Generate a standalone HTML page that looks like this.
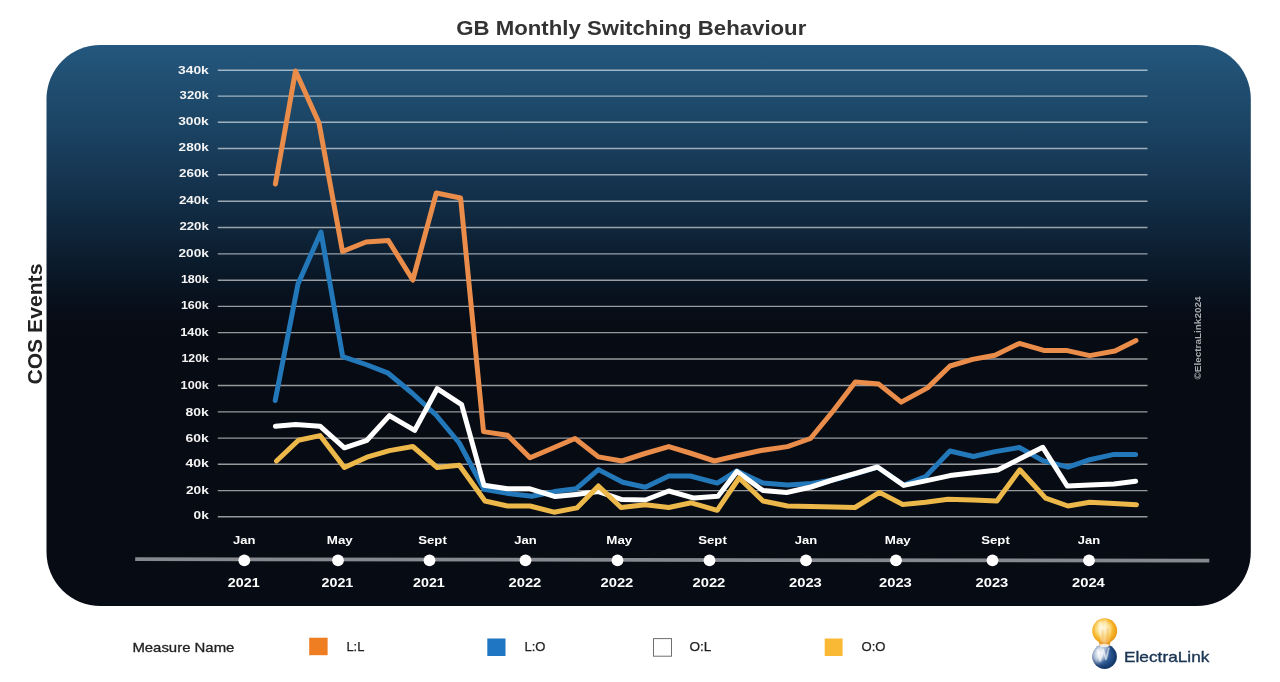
<!DOCTYPE html>
<html><head><meta charset="utf-8"><title>GB Monthly Switching Behaviour</title>
<style>
html,body{margin:0;padding:0;background:#fff;}
body{width:1280px;height:682px;overflow:hidden;font-family:"Liberation Sans",sans-serif;}
svg{display:block;will-change:transform;}
text{font-family:"Liberation Sans",sans-serif;}
</style></head><body>
<svg width="1280" height="682" viewBox="0 0 1280 682">
<defs>
<linearGradient id="bg" x1="0" y1="0" x2="0" y2="1">
<stop offset="0.0000" stop-color="#24577e"/>
<stop offset="0.0980" stop-color="#1e4a6b"/>
<stop offset="0.1693" stop-color="#1a405f"/>
<stop offset="0.2406" stop-color="#153450"/>
<stop offset="0.3030" stop-color="#112a41"/>
<stop offset="0.3832" stop-color="#0b1c2d"/>
<stop offset="0.4367" stop-color="#081320"/>
<stop offset="0.4902" stop-color="#070c16"/>
<stop offset="0.5294" stop-color="#070b13"/>
<stop offset="1.0000" stop-color="#070b13"/>
</linearGradient>
<radialGradient id="orbY" cx="0.45" cy="0.45" r="0.58" fx="0.42" fy="0.4">
<stop offset="0" stop-color="#fdf1c4"/>
<stop offset="0.4" stop-color="#fad461"/>
<stop offset="0.75" stop-color="#f5b021"/>
<stop offset="1" stop-color="#e8931a"/>
</radialGradient>
<radialGradient id="orbB" cx="0.5" cy="0.5" r="0.62" fx="0.3" fy="0.32">
<stop offset="0" stop-color="#e3e8f0"/>
<stop offset="0.22" stop-color="#a9b9d0"/>
<stop offset="0.5" stop-color="#2d5a96"/>
<stop offset="0.78" stop-color="#163c70"/>
<stop offset="1" stop-color="#0d284e"/>
</radialGradient>
<linearGradient id="neck" x1="0" y1="0" x2="0" y2="1">
<stop offset="0" stop-color="#f0a01d"/>
<stop offset="0.6" stop-color="#e88f1c"/>
<stop offset="1" stop-color="#f3d9a6"/>
</linearGradient>
<filter id="b1" x="-50%" y="-50%" width="200%" height="200%"><feGaussianBlur stdDeviation="0.7"/></filter>
<filter id="b3" x="-50%" y="-50%" width="200%" height="200%"><feGaussianBlur stdDeviation="2"/></filter>
<filter id="b2" x="-50%" y="-50%" width="200%" height="200%"><feGaussianBlur stdDeviation="1.2"/></filter>
</defs>
<rect width="1280" height="682" fill="#ffffff"/>
<text x="456.3" y="35.1" font-size="20" font-weight="bold" fill="#333333" textLength="350" lengthAdjust="spacingAndGlyphs">GB Monthly Switching Behaviour</text>
<rect x="46.5" y="45" width="1204.3" height="561" rx="54" ry="54" fill="url(#bg)"/>
<g stroke="#ffffff" stroke-opacity="0.58" stroke-width="1.4">
<line x1="217.8" y1="70.20" x2="1147.5" y2="70.20"/>
<line x1="217.8" y1="96.10" x2="1147.5" y2="96.10"/>
<line x1="217.8" y1="122.30" x2="1147.5" y2="122.30"/>
<line x1="217.8" y1="148.50" x2="1147.5" y2="148.50"/>
<line x1="217.8" y1="174.80" x2="1147.5" y2="174.80"/>
<line x1="217.8" y1="201.20" x2="1147.5" y2="201.20"/>
<line x1="217.8" y1="227.50" x2="1147.5" y2="227.50"/>
<line x1="217.8" y1="253.90" x2="1147.5" y2="253.90"/>
<line x1="217.8" y1="280.20" x2="1147.5" y2="280.20"/>
<line x1="217.8" y1="306.40" x2="1147.5" y2="306.40"/>
<line x1="217.8" y1="332.60" x2="1147.5" y2="332.60"/>
<line x1="217.8" y1="359.00" x2="1147.5" y2="359.00"/>
<line x1="217.8" y1="385.50" x2="1147.5" y2="385.50"/>
<line x1="217.8" y1="411.90" x2="1147.5" y2="411.90"/>
<line x1="217.8" y1="438.10" x2="1147.5" y2="438.10"/>
<line x1="217.8" y1="464.30" x2="1147.5" y2="464.30"/>
<line x1="217.8" y1="490.60" x2="1147.5" y2="490.60"/>
<line x1="217.8" y1="516.80" x2="1147.5" y2="516.80"/>
</g>
<g font-size="10.3" font-weight="bold" fill="#f4f4f4" text-anchor="end">
<text x="208.8" y="74.00" textLength="30.8" lengthAdjust="spacingAndGlyphs">340k</text>
<text x="208.8" y="98.50" textLength="29.2" lengthAdjust="spacingAndGlyphs">320k</text>
<text x="208.8" y="124.60" textLength="30.6" lengthAdjust="spacingAndGlyphs">300k</text>
<text x="208.8" y="150.90" textLength="30.2" lengthAdjust="spacingAndGlyphs">280k</text>
<text x="208.8" y="177.40" textLength="29.8" lengthAdjust="spacingAndGlyphs">260k</text>
<text x="208.8" y="204.10" textLength="29.9" lengthAdjust="spacingAndGlyphs">240k</text>
<text x="208.8" y="230.20" textLength="29.4" lengthAdjust="spacingAndGlyphs">220k</text>
<text x="208.8" y="256.60" textLength="30.3" lengthAdjust="spacingAndGlyphs">200k</text>
<text x="208.8" y="282.70" textLength="27.9" lengthAdjust="spacingAndGlyphs">180k</text>
<text x="208.8" y="309.10" textLength="27.9" lengthAdjust="spacingAndGlyphs">160k</text>
<text x="208.8" y="335.90" textLength="28.6" lengthAdjust="spacingAndGlyphs">140k</text>
<text x="208.8" y="361.50" textLength="27.3" lengthAdjust="spacingAndGlyphs">120k</text>
<text x="208.8" y="388.80" textLength="28.2" lengthAdjust="spacingAndGlyphs">100k</text>
<text x="208.8" y="415.60" textLength="23.2" lengthAdjust="spacingAndGlyphs">80k</text>
<text x="208.8" y="441.70" textLength="23.2" lengthAdjust="spacingAndGlyphs">60k</text>
<text x="208.8" y="467.30" textLength="23.4" lengthAdjust="spacingAndGlyphs">40k</text>
<text x="208.8" y="493.70" textLength="22.8" lengthAdjust="spacingAndGlyphs">20k</text>
<text x="208.8" y="518.90" textLength="15.2" lengthAdjust="spacingAndGlyphs">0k</text>
</g>
<text transform="translate(42.4,384.6) rotate(-90)" font-size="20" font-weight="bold" fill="#222222" textLength="121" lengthAdjust="spacingAndGlyphs">COS Events</text>
<text transform="translate(1201,379.5) rotate(-90)" font-size="8.8" font-weight="bold" fill="#a9abae" textLength="83" lengthAdjust="spacingAndGlyphs">©ElectraLink2024</text>
<g fill="none" stroke-width="5.0" stroke-linejoin="round" stroke-linecap="round">
<polyline stroke="#ea8d4a" points="275.4,184.0 295.5,71.0 319.0,123.0 342.5,251.5 366.0,242.0 388.4,240.6 412.8,280.0 436.3,193.0 460.6,198.0 483.5,431.6 507.5,435.3 530.0,457.8 553.0,448.0 575.0,438.5 598.4,456.9 621.9,461.0 645.0,453.5 668.8,446.6 691.5,453.5 714.4,461.0 738.0,455.5 761.0,450.5 787.5,446.6 810.5,438.5 833.5,410.5 855.3,381.9 878.8,384.1 901.2,402.1 927.5,387.9 950.0,366.0 972.5,359.4 995.0,355.2 1019.4,343.4 1043.8,350.4 1066.2,350.4 1089.7,355.6 1115.0,351.0 1136.0,340.5"/>
<polyline stroke="#2378ba" points="275.2,400.5 298.0,284.0 321.0,232.0 342.7,356.6 366.0,364.5 387.6,372.8 412.0,393.0 436.0,415.0 459.3,443.0 484.0,489.3 507.5,493.4 531.9,496.2 554.4,491.6 576.0,488.8 598.4,469.6 622.8,482.2 645.3,487.2 668.8,476.0 690.3,476.0 717.2,483.1 736.9,471.0 763.0,483.0 787.5,485.0 811.9,483.5 834.0,479.8 857.0,473.3 877.5,467.2 903.8,485.0 925.6,476.6 950.0,451.0 973.4,456.5 995.0,451.6 1019.4,447.5 1042.8,460.6 1068.0,467.2 1089.7,459.7 1114.0,454.4 1135.6,454.4"/>
<polyline stroke="#ffffff" points="275.4,426.2 295.6,424.4 320.0,426.2 344.4,447.8 366.9,440.3 389.4,415.6 414.7,430.4 437.2,388.7 461.6,404.7 484.0,485.3 507.5,488.8 530.0,488.8 555.3,496.6 576.0,494.4 598.4,491.6 621.9,499.6 645.3,500.0 668.8,491.0 694.0,498.1 718.0,496.2 736.9,471.5 763.0,490.6 786.6,492.5 811.0,487.0 834.0,479.5 857.0,473.0 877.5,467.0 903.8,485.4 925.6,480.9 950.0,475.6 973.4,472.8 997.8,470.0 1019.4,459.0 1042.8,447.3 1067.2,486.0 1089.7,485.0 1114.0,484.0 1135.6,481.2"/>
<polyline stroke="#edb84a" points="276.5,461.0 298.4,440.3 320.0,435.6 344.4,467.5 366.9,457.2 389.4,450.6 412.8,446.5 437.2,467.5 459.3,465.3 485.0,501.0 507.5,506.0 530.0,506.0 554.0,512.2 576.9,507.9 598.4,486.0 621.0,507.5 645.3,504.7 668.8,507.5 691.2,502.8 717.2,510.3 739.1,478.0 763.0,501.0 787.5,506.0 811.0,506.6 834.0,507.1 855.0,507.5 879.4,492.4 902.8,504.5 925.6,502.3 948.0,499.2 973.0,500.0 996.9,501.0 1019.8,469.8 1045.6,498.1 1068.0,506.0 1089.7,502.2 1114.0,503.4 1136.5,504.7"/>
</g>
<line x1="135.2" y1="559.1" x2="1209.3" y2="560.7" stroke="#86888f" stroke-width="3.8"/>
<g fill="#ffffff" font-weight="bold" text-anchor="middle">
<circle cx="244.3" cy="560.3" r="5.9"/>
<text x="244.3" y="544.4" font-size="11.4" textLength="22.4" lengthAdjust="spacingAndGlyphs">Jan</text>
<text x="243.70000000000002" y="587.2" font-size="12" textLength="31.8" lengthAdjust="spacingAndGlyphs">2021</text>
<circle cx="338" cy="560.3" r="5.9"/>
<text x="339.8" y="544.4" font-size="11.4" textLength="26.0" lengthAdjust="spacingAndGlyphs">May</text>
<text x="337.4" y="587.2" font-size="12" textLength="31.8" lengthAdjust="spacingAndGlyphs">2021</text>
<circle cx="429.5" cy="560.3" r="5.9"/>
<text x="432.5" y="544.4" font-size="11.4" textLength="28.6" lengthAdjust="spacingAndGlyphs">Sept</text>
<text x="428.9" y="587.2" font-size="12" textLength="31.8" lengthAdjust="spacingAndGlyphs">2021</text>
<circle cx="525.5" cy="560.3" r="5.9"/>
<text x="525.5" y="544.4" font-size="11.4" textLength="22.4" lengthAdjust="spacingAndGlyphs">Jan</text>
<text x="524.9" y="587.2" font-size="12" textLength="32.9" lengthAdjust="spacingAndGlyphs">2022</text>
<circle cx="617.5" cy="560.3" r="5.9"/>
<text x="619.3" y="544.4" font-size="11.4" textLength="26.0" lengthAdjust="spacingAndGlyphs">May</text>
<text x="616.9" y="587.2" font-size="12" textLength="32.9" lengthAdjust="spacingAndGlyphs">2022</text>
<circle cx="709.5" cy="560.3" r="5.9"/>
<text x="712.5" y="544.4" font-size="11.4" textLength="28.6" lengthAdjust="spacingAndGlyphs">Sept</text>
<text x="708.9" y="587.2" font-size="12" textLength="32.9" lengthAdjust="spacingAndGlyphs">2022</text>
<circle cx="806" cy="560.3" r="5.9"/>
<text x="806.0" y="544.4" font-size="11.4" textLength="22.4" lengthAdjust="spacingAndGlyphs">Jan</text>
<text x="805.4" y="587.2" font-size="12" textLength="32.9" lengthAdjust="spacingAndGlyphs">2023</text>
<circle cx="896" cy="560.3" r="5.9"/>
<text x="897.8" y="544.4" font-size="11.4" textLength="26.0" lengthAdjust="spacingAndGlyphs">May</text>
<text x="895.4" y="587.2" font-size="12" textLength="32.9" lengthAdjust="spacingAndGlyphs">2023</text>
<circle cx="992.5" cy="560.3" r="5.9"/>
<text x="995.5" y="544.4" font-size="11.4" textLength="28.6" lengthAdjust="spacingAndGlyphs">Sept</text>
<text x="991.9" y="587.2" font-size="12" textLength="32.9" lengthAdjust="spacingAndGlyphs">2023</text>
<circle cx="1089" cy="560.3" r="5.9"/>
<text x="1089.0" y="544.4" font-size="11.4" textLength="22.4" lengthAdjust="spacingAndGlyphs">Jan</text>
<text x="1088.4" y="587.2" font-size="12" textLength="32.9" lengthAdjust="spacingAndGlyphs">2024</text>
</g>
<text x="132.4" y="652.4" font-size="13.5" fill="#222222" stroke="#222222" stroke-width="0.3" textLength="102" lengthAdjust="spacingAndGlyphs">Measure Name</text>
<rect x="309.2" y="637.7" width="18.4" height="17.5" fill="#ef7d22"/>
<text x="346.4" y="650.5" font-size="12.3" fill="#222222" stroke="#222222" stroke-width="0.25" textLength="18" lengthAdjust="spacingAndGlyphs">L:L</text>
<rect x="487.3" y="638.5" width="18.2" height="17.5" fill="#1f77c3"/>
<text x="524.5" y="650.8" font-size="12.3" fill="#222222" stroke="#222222" stroke-width="0.25" textLength="21" lengthAdjust="spacingAndGlyphs">L:O</text>
<rect x="653.5" y="638.6" width="18" height="17.6" fill="#ffffff" stroke="#6f6f6f" stroke-width="1"/>
<text x="689.5" y="650.5" font-size="12.3" fill="#222222" stroke="#222222" stroke-width="0.25" textLength="21.9" lengthAdjust="spacingAndGlyphs">O:L</text>
<rect x="824.7" y="638.5" width="17.9" height="17.5" fill="#f9b935"/>
<text x="861.5" y="650.5" font-size="12.3" fill="#222222" stroke="#222222" stroke-width="0.25" textLength="24" lengthAdjust="spacingAndGlyphs">O:O</text>
<g>
<clipPath id="cb"><circle cx="1104.6" cy="656.6" r="12.3"/></clipPath>
<clipPath id="cy"><circle cx="1104.7" cy="630.8" r="12.5"/></clipPath>
<circle cx="1104.6" cy="656.6" r="12.3" fill="url(#orbB)"/>
<g clip-path="url(#cb)">
<ellipse cx="1097.6" cy="654" rx="6" ry="9" fill="#ffffff" fill-opacity="0.72" filter="url(#b3)"/>
<ellipse cx="1103.5" cy="647.5" rx="6" ry="3" fill="#ffffff" fill-opacity="0.5" filter="url(#b2)"/>
<g filter="url(#b1)" fill="none" stroke="#ffffff" stroke-linecap="round" stroke-linejoin="round">
<path d="M1097.6,650 L1100.2,661 L1103.2,649.5 L1106,659.5 L1108.8,648.5" stroke-width="1.7" stroke-opacity="0.55"/>
</g>
</g>
<path d="M1098.3,640.5 L1111,640.5 L1109.2,646.3 L1100.2,646.3 Z" fill="url(#neck)"/>
<circle cx="1104.7" cy="630.8" r="12.5" fill="url(#orbY)"/>
<g clip-path="url(#cy)">
<ellipse cx="1102" cy="628" rx="6" ry="7.5" fill="#fff8dc" fill-opacity="0.55" filter="url(#b3)"/>
<g filter="url(#b2)" fill="none" stroke="#ffffff" stroke-linecap="round">
<path d="M1100.3,622.5 Q1100.3,632 1102.6,641" stroke-width="2.2" stroke-opacity="0.7"/>
<path d="M1105.6,620.5 Q1106.3,632 1104.6,643" stroke-width="2" stroke-opacity="0.6"/>
<path d="M1109.8,624.5 Q1109.6,634 1107.2,642" stroke-width="1.8" stroke-opacity="0.5"/>
</g>
<path d="M1102.4,630 Q1102.2,638 1103.6,645" stroke="#e58718" stroke-width="2" stroke-opacity="0.35" fill="none" filter="url(#b2)"/>
<path d="M1108,628 Q1108,637 1106.4,644" stroke="#e58718" stroke-width="2" stroke-opacity="0.35" fill="none" filter="url(#b2)"/>
</g>
<ellipse cx="1104.3" cy="645.4" rx="4.4" ry="1.9" fill="#ffffff" fill-opacity="0.7" filter="url(#b1)"/>
</g>
<text x="1124" y="661.6" font-size="14.5" fill="#1b3554" stroke="#1b3554" stroke-width="0.35" textLength="85.4" lengthAdjust="spacingAndGlyphs">ElectraLink</text>
</svg>
</body></html>
